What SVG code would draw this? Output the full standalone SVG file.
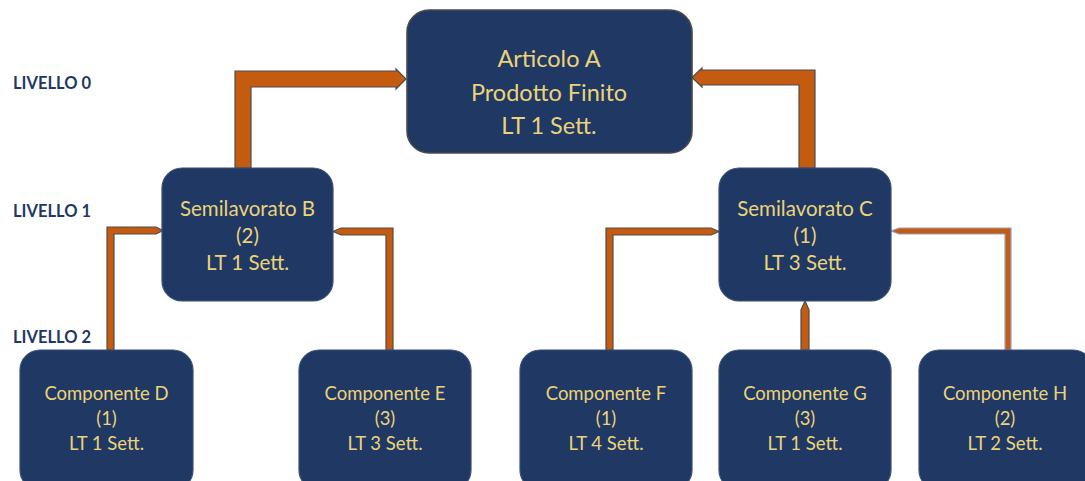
<svg xmlns="http://www.w3.org/2000/svg" width="1085" height="481" viewBox="0 0 1085 481">
  <style>
    .node { fill: #1f3864; stroke: #3b4f78; stroke-width: 1.2; }
    .top { stroke: #4a4a4a; stroke-width: 1.6; }
    .lbl { font-family: Lato, "Open Sans", sans-serif; fill: #ecd37a; text-anchor: middle; }
    .l1 { font-size: 23.5px; }
    .l2 { font-size: 20.5px; }
    .l3 { font-size: 18.5px; }
    .lvl { font-family: Lato, "Open Sans", sans-serif; font-weight: bold; font-size: 16.5px; fill: #1f3864; }
    .arrow { fill: #c55a11; stroke: #4d4d4d; stroke-width: 1.2; stroke-linejoin: miter; }
    .arrow-lt { fill: #c55a11; stroke: #8ea3cc; stroke-width: 1.2; }
  </style>

  <rect width="1085" height="481" fill="#ffffff"/>

  <!-- level labels -->
  <text class="lvl" x="13" y="89">LIVELLO 0</text>
  <text class="lvl" x="13" y="217">LIVELLO 1</text>
  <text class="lvl" x="13" y="343">LIVELLO 2</text>

  <!-- connectors -->
  <g id="connectors">
    <!-- B -> A -->
    <polygon class="arrow" points="235,168 235,71 396,71 396,69 406,79 396,89 396,87 251,87 251,168"/>
    <!-- C -> A -->
    <polygon class="arrow" points="815,168 815,70 702,70 702,68 692,77.5 702,87 702,85 799,85 799,168"/>
    <!-- D -> B -->
    <polygon class="arrow" points="107,350 107,227 156,227 163,230.5 156,234 114,234 114,350"/>
    <!-- E -> B -->
    <polygon class="arrow" points="393,350 393,228 341,228 333,231.5 341,235 386,235 386,350"/>
    <!-- F -> C -->
    <polygon class="arrow" points="606,350 606,228 711,228 719,231.5 711,235 613,235 613,350"/>
    <!-- G -> C -->
    <polygon class="arrow" points="801,350 801,310 805,301 809,310 809,350"/>
    <!-- H -> C -->
    <polygon class="arrow-lt" points="1011,350 1011,228 899,228 891,231 899,234 1005,234 1005,350"/>
  </g>

  <!-- Level 0 -->
  <g id="node-a">
    <rect class="node top" x="407" y="10" width="285" height="143" rx="22"/>
    <text class="lbl l1" x="549" y="67">Articolo A</text>
    <text class="lbl l1" x="549" y="101">Prodotto Finito</text>
    <text class="lbl l1" x="549" y="134">LT 1 Sett.</text>
  </g>

  <!-- Level 1 -->
  <g id="node-b">
    <rect class="node" x="162" y="168" width="171" height="133" rx="20"/>
    <text class="lbl l2" x="247.5" y="216">Semilavorato B</text>
    <text class="lbl l2" x="247.5" y="243">(2)</text>
    <text class="lbl l2" x="247.5" y="270">LT 1 Sett.</text>
  </g>
  <g id="node-c">
    <rect class="node" x="719" y="168" width="172" height="133" rx="20"/>
    <text class="lbl l2" x="805" y="216">Semilavorato C</text>
    <text class="lbl l2" x="805" y="243">(1)</text>
    <text class="lbl l2" x="805" y="270">LT 3 Sett.</text>
  </g>

  <!-- Level 2 -->
  <g id="node-d">
    <rect class="node" x="20" y="350" width="173" height="140" rx="20"/>
    <text class="lbl l3" x="106.5" y="400">Componente D</text>
    <text class="lbl l3" x="106.5" y="425">(1)</text>
    <text class="lbl l3" x="106.5" y="450">LT 1 Sett.</text>
  </g>
  <g id="node-e">
    <rect class="node" x="299" y="350" width="172" height="140" rx="20"/>
    <text class="lbl l3" x="385" y="400">Componente E</text>
    <text class="lbl l3" x="385" y="425">(3)</text>
    <text class="lbl l3" x="385" y="450">LT 3 Sett.</text>
  </g>
  <g id="node-f">
    <rect class="node" x="520" y="350" width="172" height="140" rx="20"/>
    <text class="lbl l3" x="606" y="400">Componente F</text>
    <text class="lbl l3" x="606" y="425">(1)</text>
    <text class="lbl l3" x="606" y="450">LT 4 Sett.</text>
  </g>
  <g id="node-g">
    <rect class="node" x="719" y="350" width="172" height="140" rx="20"/>
    <text class="lbl l3" x="805" y="400">Componente G</text>
    <text class="lbl l3" x="805" y="425">(3)</text>
    <text class="lbl l3" x="805" y="450">LT 1 Sett.</text>
  </g>
  <g id="node-h">
    <rect class="node" x="919" y="350" width="174" height="140" rx="20"/>
    <text class="lbl l3" x="1005" y="400">Componente H</text>
    <text class="lbl l3" x="1005" y="425">(2)</text>
    <text class="lbl l3" x="1005" y="450">LT 2 Sett.</text>
  </g>
</svg>
